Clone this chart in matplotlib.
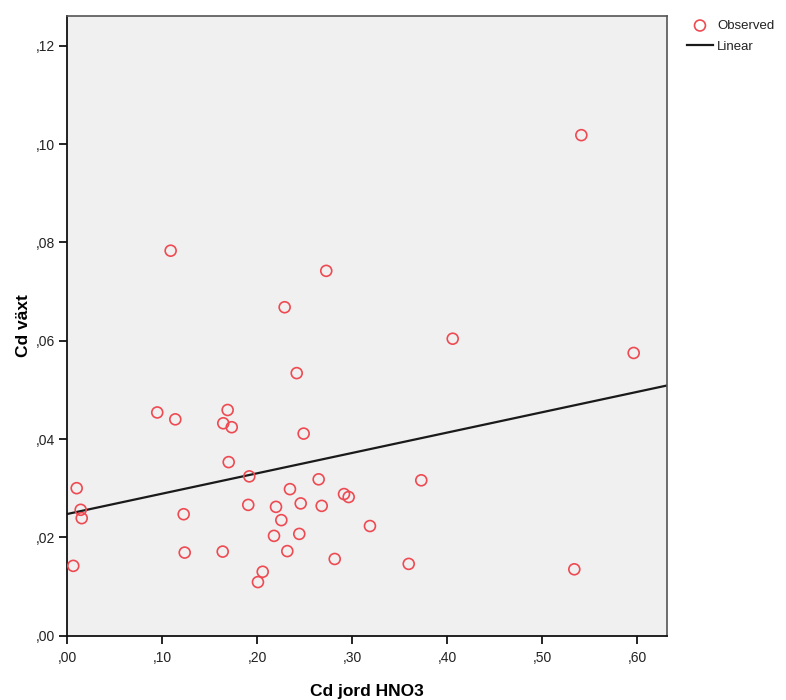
import numpy as np
import matplotlib
matplotlib.use("Agg")
import matplotlib.pyplot as plt
from matplotlib.ticker import FuncFormatter

plt.rcParams['font.family'] = ['Liberation Sans', 'DejaVu Sans']

# Cd in soil (HNO3 extract) vs Cd in plant
cd_jord = [0.0099, 0.0141, 0.0152, 0.0063, 0.0947, 0.1137, 0.1688, 0.1642,
           0.1731, 0.2488, 0.1699, 0.1916, 0.2646, 0.2344, 0.2913, 0.2962,
           0.1905, 0.2197, 0.2457, 0.2678, 0.1225, 0.2253, 0.2176, 0.2442,
           0.1236, 0.1636, 0.2316, 0.2815, 0.2057, 0.2007, 0.1088, 0.2726,
           0.2288, 0.2415, 0.4057, 0.5962, 0.3726, 0.3186, 0.3594, 0.5337,
           0.5411]
cd_vaxt = [0.0300, 0.0256, 0.0239, 0.0142, 0.0454, 0.0440, 0.0459, 0.0432,
           0.0424, 0.0411, 0.0353, 0.0324, 0.0318, 0.0298, 0.0288, 0.0282,
           0.0266, 0.0262, 0.0269, 0.0264, 0.0247, 0.0235, 0.0203, 0.0207,
           0.0169, 0.0171, 0.0172, 0.0156, 0.0130, 0.0109, 0.0783, 0.0742,
           0.0668, 0.0534, 0.0604, 0.0575, 0.0316, 0.0223, 0.0146, 0.0135,
           0.1018]

# linear fit line
fit_intercept = 0.02475
fit_slope = 0.0414

x_ticks = [0.0, 0.1, 0.2, 0.3, 0.4, 0.5, 0.6]
y_ticks = [0.0, 0.02, 0.04, 0.06, 0.08, 0.10, 0.12]
x_max = 0.6316
y_max = 0.1261


def comma_fmt(v, pos):
    return f"{v:.2f}".replace("0.", ",", 1)


fig = plt.figure(figsize=(7.86, 7.0), dpi=100)
ax = fig.add_axes([0.0856, 0.0919, 0.7634, 0.8857])
ax.set_facecolor('#f0f0f0')

ax.scatter(cd_jord, cd_vaxt, s=62, facecolors='none', edgecolors='#ee4a52',
           linewidths=1.2, zorder=3, label='Observed')
xs = np.array([0.0, x_max])
ax.plot(xs, fit_intercept + fit_slope * xs, color='#1a1a1a', lw=1.6,
        zorder=2, label='Linear')

ax.set_xlim(0, x_max)
ax.set_ylim(0, y_max)
ax.set_xticks(x_ticks)
ax.set_yticks(y_ticks)
ax.xaxis.set_major_formatter(FuncFormatter(comma_fmt))
ax.yaxis.set_major_formatter(FuncFormatter(comma_fmt))
ax.tick_params(direction='out', length=6, width=1.2, labelsize=10,
               labelcolor='#222222', pad=3)
ax.tick_params(axis='x', pad=5)

for side in ['left', 'bottom']:
    ax.spines[side].set_color('#111111')
    ax.spines[side].set_linewidth(1.3)
for side in ['top', 'right']:
    ax.spines[side].set_color('#555555')
    ax.spines[side].set_linewidth(1.2)

ax.set_xlabel('Cd jord HNO3', fontsize=12.5, fontweight='bold', labelpad=14)
ax.set_ylabel('Cd växt', fontsize=12.5, fontweight='bold', labelpad=3)

fig.legend(loc='upper left', bbox_to_anchor=(0.862, 0.985), frameon=False,
           fontsize=9.5, handlelength=2.0, handletextpad=0.3,
           labelspacing=0.65, borderpad=0.2, labelcolor='#222222')

fig.savefig('out.png', dpi=100)
